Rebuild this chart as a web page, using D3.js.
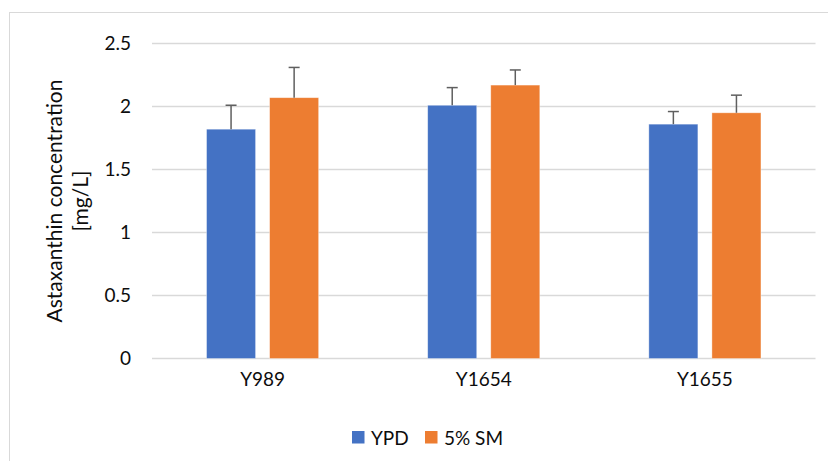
<!DOCTYPE html>
<html>
<head>
<meta charset="utf-8">
<script src="https://cdn.jsdelivr.net/npm/d3@7"></script>
<style>
  html, body { margin: 0; padding: 0; background: #fff; }
  svg { display: block; }
  text { font-family: Lato, "Open Sans", "Liberation Sans", sans-serif; fill: #0d0d0d; }
</style>
</head>
<body>
<svg id="chart" width="828" height="461"></svg>
<script>
// ---- data ----
const categories = ["Y989", "Y1654", "Y1655"];
const seriesNames = ["YPD", "5% SM"];
const ypdValues = [1.82, 2.01, 1.86];
const ypdErrors = [0.19, 0.14, 0.10];
const smValues  = [2.07, 2.17, 1.95];
const smErrors  = [0.24, 0.12, 0.14];
const yTicks = [0, 0.5, 1, 1.5, 2, 2.5];
const yTitleLines = ["Astaxanthin concentration", "[mg/L]"];
const colors = ["#4472C4", "#ED7D31"];

const series = [
  { name: seriesNames[0], values: ypdValues, errors: ypdErrors, color: colors[0] },
  { name: seriesNames[1], values: smValues,  errors: smErrors,  color: colors[1] }
];

const svg = d3.select("#chart");
const W = 828, H = 461;
const plot = { left: 152, right: 815.5, top: 43.5, bottom: 358.5 };

// chart border
svg.append("rect")
  .attr("x", 9.5).attr("y", 12.5)
  .attr("width", W + 10).attr("height", H + 10)
  .attr("fill", "#fff").attr("stroke", "#d9d9d9").attr("stroke-width", 1);

const y = d3.scaleLinear().domain([0, 2.5]).range([plot.bottom, plot.top]);
const x0 = d3.scaleBand().domain(categories).range([plot.left, plot.right])
  .paddingInner(0.493).paddingOuter(0.2466);
const x1 = d3.scaleBand().domain(seriesNames).range([0, x0.bandwidth()])
  .paddingInner(0.2222).paddingOuter(0);

// gridlines
svg.append("g")
  .selectAll("line").data(yTicks).join("line")
  .attr("x1", plot.left).attr("x2", plot.right)
  .attr("y1", d => y(d)).attr("y2", d => y(d))
  .attr("stroke", "#d9d9d9").attr("stroke-width", 1.3);

// y axis via d3 axis (labels only)
const yAxis = svg.append("g")
  .attr("transform", `translate(${plot.left - 21},0)`)
  .call(d3.axisLeft(y).tickValues(yTicks).tickSize(0).tickPadding(0).tickFormat(d3.format("")));
yAxis.select(".domain").remove();
yAxis.selectAll("text")
  .style("font-family", "Lato, 'Open Sans', sans-serif")
  .style("font-size", "19px").attr("fill", "#0d0d0d");

// x axis labels
const xAxis = svg.append("g")
  .attr("transform", `translate(0,${plot.bottom})`)
  .call(d3.axisBottom(x0).tickSize(0).tickPadding(14));
xAxis.select(".domain").remove();
xAxis.selectAll("text")
  .style("font-family", "Lato, 'Open Sans', sans-serif")
  .style("font-size", "19px").attr("fill", "#0d0d0d");

// bars
const groups = svg.append("g").selectAll("g").data(series).join("g");
groups.selectAll("rect")
  .data(s => categories.map((c, i) => ({ c, v: s.values[i], e: s.errors[i], name: s.name, color: s.color })))
  .join("rect")
  .attr("x", d => x0(d.c) + x1(d.name))
  .attr("width", x1.bandwidth())
  .attr("y", d => y(d.v))
  .attr("height", d => y(0) - y(d.v))
  .attr("fill", d => d.color)
  .attr("stroke", "#ffffff").attr("stroke-opacity", 0.5).attr("stroke-width", 0.75);

// error bars
const errG = svg.append("g");
series.forEach(s => {
  categories.forEach((c, i) => {
    const cx = x0(c) + x1(s.name) + x1.bandwidth() / 2;
    const yTop = y(s.values[i] + s.errors[i]);
    errG.append("line")
      .attr("x1", cx).attr("x2", cx)
      .attr("y1", y(s.values[i])).attr("y2", yTop)
      .attr("stroke", "#5f5f5f").attr("stroke-width", 1.5);
    errG.append("line")
      .attr("x1", cx - 5.5).attr("x2", cx + 5.5)
      .attr("y1", yTop).attr("y2", yTop)
      .attr("stroke", "#5f5f5f").attr("stroke-width", 1.5);
  });
});

// y axis title
const titleCy = (plot.top + plot.bottom) / 2;
const yTitle = svg.append("text")
  .attr("transform", `translate(0,${titleCy}) rotate(-90)`)
  .attr("text-anchor", "middle")
  .style("font-size", "21px");
yTitle.selectAll("tspan").data(yTitleLines).join("tspan")
  .attr("x", 0)
  .attr("y", (d, i) => i === 0 ? 62 : 88)
  .text(d => d);

// legend
const legendItems = [
  { name: seriesNames[0], color: colors[0], x: 352 },
  { name: seriesNames[1], color: colors[1], x: 425 }
];
const lg = svg.append("g");
legendItems.forEach(it => {
  lg.append("rect").attr("x", it.x).attr("y", 431).attr("width", 12.5).attr("height", 12.5).attr("fill", it.color);
  lg.append("text").attr("x", it.x + 19).attr("y", 444.5)
    .style("font-size", "19px").text(it.name);
});
</script>
</body>
</html>
